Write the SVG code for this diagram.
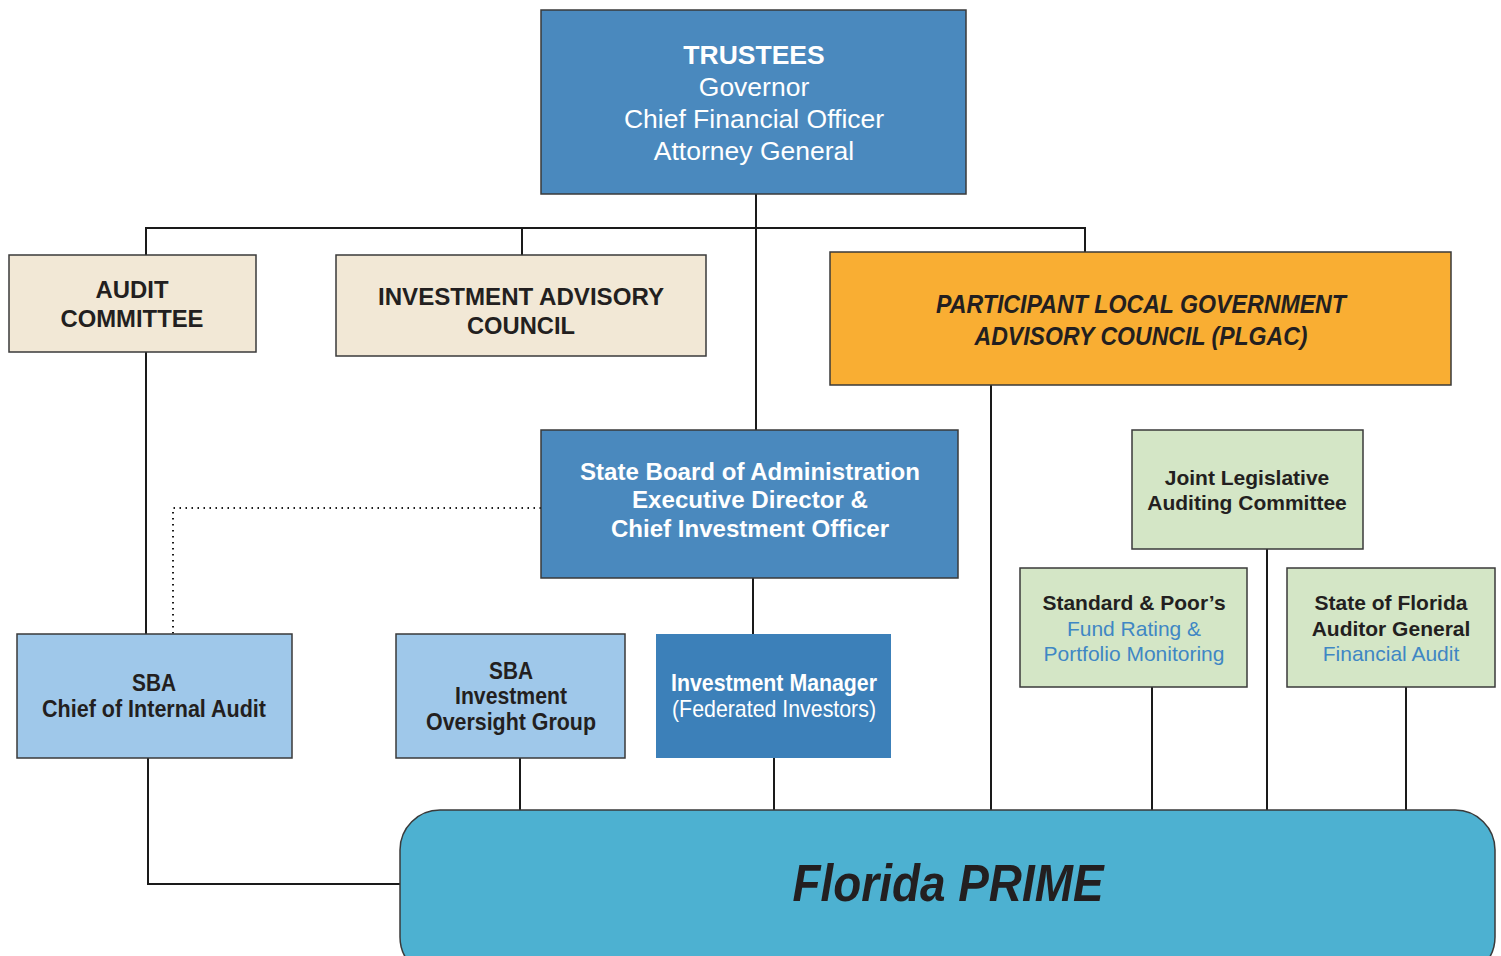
<svg xmlns="http://www.w3.org/2000/svg" width="1501" height="956" viewBox="0 0 1501 956">
<style>
.box{stroke:#3a3a3a;stroke-width:1.5}
.blue{fill:#4a89be}
.tan{fill:#f2e8d6}
.orange{fill:#f9ae33}
.lblue{fill:#9fc8ea}
.dblue{fill:#3c80b9}
.green{fill:#d4e6c6}
.prime{fill:#4db1d1}
.conn{stroke:#1a1a1a;stroke-width:2;fill:none}
.dot{stroke:#1a1a1a;stroke-width:2;fill:none;stroke-dasharray:1.5 4.5}
text{text-anchor:middle}
.w{fill:#ffffff;font-family:"Liberation Sans",Arial,sans-serif}
.nb{font-family:"Liberation Sans Narrow","Liberation Sans",Arial,sans-serif;font-weight:bold;font-size:24px}
.dk{fill:#231f20}
.ab{font-family:"Liberation Sans",Arial,sans-serif;font-weight:bold;font-size:21px;fill:#231f20}
.ar{font-family:"Liberation Sans",Arial,sans-serif;font-size:21px;fill:#3f87c4}
.it{font-family:"Liberation Sans Narrow","Liberation Sans",Arial,sans-serif;font-weight:bold;font-style:italic;fill:#231f20}
</style>
<rect width="1501" height="956" fill="#ffffff"/>
<g id="connectors">
<path class="conn" d="M756 194 V430"/>
<path class="conn" d="M146 255 V228 H1085 V252"/>
<path class="conn" d="M522 228 V255"/>
<path class="conn" d="M146 352 V634"/>
<path class="conn" d="M991 385 V810"/>
<path class="conn" d="M753 578 V634"/>
<path class="conn" d="M1267 549 V810"/>
<path class="conn" d="M1152 687 V810"/>
<path class="conn" d="M1406 687 V810"/>
<path class="conn" d="M148 758 V884 H400"/>
<path class="conn" d="M520 758 V810"/>
<path class="conn" d="M774 758 V810"/>
<path class="dot" d="M541 508 H173 V634"/>
</g>
<g id="trustees">
<rect class="box blue" x="541" y="10" width="425" height="184"/>
<text class="w" x="754" y="64" font-size="26.5" font-weight="bold">TRUSTEES</text>
<text class="w" x="754" y="96" font-size="26.5">Governor</text>
<text class="w" x="754" y="128" font-size="26.5">Chief Financial Officer</text>
<text class="w" x="754" y="160" font-size="26.5">Attorney General</text>
</g>
<g id="audit-committee">
<rect class="box tan" x="9" y="255" width="247" height="97"/>
<text class="nb dk" x="132" y="298" textLength="73" lengthAdjust="spacingAndGlyphs">AUDIT</text>
<text class="nb dk" x="132" y="327" textLength="143" lengthAdjust="spacingAndGlyphs">COMMITTEE</text>
</g>
<g id="investment-advisory-council">
<rect class="box tan" x="336" y="255" width="370" height="101"/>
<text class="nb dk" x="521" y="305" textLength="286" lengthAdjust="spacingAndGlyphs">INVESTMENT ADVISORY</text>
<text class="nb dk" x="521" y="334" textLength="108" lengthAdjust="spacingAndGlyphs">COUNCIL</text>
</g>
<g id="plgac">
<rect class="box orange" x="830" y="252" width="621" height="133"/>
<text class="it" x="1141" y="313" font-size="26" textLength="410" lengthAdjust="spacingAndGlyphs">PARTICIPANT LOCAL GOVERNMENT</text>
<text class="it" x="1141" y="345" font-size="26" textLength="333" lengthAdjust="spacingAndGlyphs">ADVISORY COUNCIL (PLGAC)</text>
</g>
<g id="sba">
<rect class="box blue" x="541" y="430" width="417" height="148"/>
<text class="nb" fill="#ffffff" x="750" y="480" textLength="340" lengthAdjust="spacingAndGlyphs">State Board of Administration</text>
<text class="nb" fill="#ffffff" x="750" y="508" textLength="236" lengthAdjust="spacingAndGlyphs">Executive Director &amp;</text>
<text class="nb" fill="#ffffff" x="750" y="537" textLength="278" lengthAdjust="spacingAndGlyphs">Chief Investment Officer</text>
</g>
<g id="joint-legislative">
<rect class="box green" x="1132" y="430" width="231" height="119"/>
<text class="ab" x="1247" y="485">Joint Legislative</text>
<text class="ab" x="1247" y="510">Auditing Committee</text>
</g>
<g id="standard-poors">
<rect class="box green" x="1020" y="568" width="227" height="119"/>
<text class="ab" x="1134" y="610">Standard &amp; Poor’s</text>
<text class="ar" x="1134" y="636">Fund Rating &amp;</text>
<text class="ar" x="1134" y="661">Portfolio Monitoring</text>
</g>
<g id="auditor-general">
<rect class="box green" x="1287" y="568" width="208" height="119"/>
<text class="ab" x="1391" y="610">State of Florida</text>
<text class="ab" x="1391" y="636">Auditor General</text>
<text class="ar" x="1391" y="661">Financial Audit</text>
</g>
<g id="chief-internal-audit">
<rect class="box lblue" x="17" y="634" width="275" height="124"/>
<text class="nb dk" x="154" y="691" textLength="44" lengthAdjust="spacingAndGlyphs">SBA</text>
<text class="nb dk" x="154" y="717" textLength="224" lengthAdjust="spacingAndGlyphs">Chief of Internal Audit</text>
</g>
<g id="investment-oversight">
<rect class="box lblue" x="396" y="634" width="229" height="124"/>
<text class="nb dk" x="511" y="679" textLength="44" lengthAdjust="spacingAndGlyphs">SBA</text>
<text class="nb dk" x="511" y="704" textLength="112" lengthAdjust="spacingAndGlyphs">Investment</text>
<text class="nb dk" x="511" y="730" textLength="170" lengthAdjust="spacingAndGlyphs">Oversight Group</text>
</g>
<g id="investment-manager">
<rect class="dblue" x="656" y="634" width="235" height="124"/>
<text class="nb" fill="#ffffff" x="774" y="691" textLength="206" lengthAdjust="spacingAndGlyphs">Investment Manager</text>
<text fill="#ffffff" font-family="Liberation Sans Narrow,Liberation Sans,Arial,sans-serif" font-size="24" x="774" y="717" textLength="204" lengthAdjust="spacingAndGlyphs">(Federated Investors)</text>
</g>
<g id="florida-prime">
<rect class="box prime" x="400" y="810" width="1095" height="167" rx="40" ry="40"/>
<text class="it" x="948" y="901" font-size="52" textLength="311" lengthAdjust="spacingAndGlyphs">Florida PRIME</text>
</g>
</svg>
